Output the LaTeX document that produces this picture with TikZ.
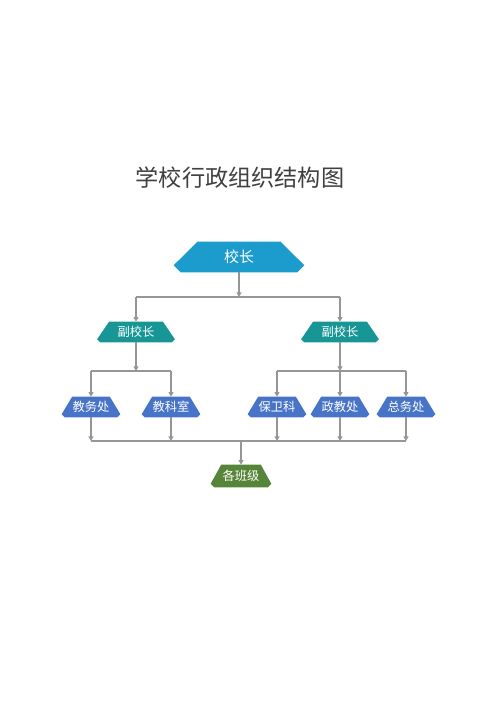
\documentclass[tikz,border=0pt]{standalone}
\usepackage{fontspec}
\setmainfont{Noto Sans CJK SC}
\usetikzlibrary{arrows.meta,backgrounds}

\definecolor{headblue}{RGB}{28,155,205}
\definecolor{viceteal}{RGB}{24,150,150}
\definecolor{deptblue}{RGB}{72,116,200}
\definecolor{classgreen}{RGB}{86,132,56}
\definecolor{linegray}{RGB}{150,150,150}
\definecolor{titlegray}{RGB}{64,64,64}

\tikzset{
    orgbox/.style={rectangle, inner sep=0pt, text=white},
    bus/.style={draw=linegray, line width=0.6pt},
    link/.style={bus, -{Triangle[length=2.6pt,width=2.8pt]}}
}

% bevelled box behind a node: name, colour, top inset, bottom bevel
\newcommand{\orgshape}[4]{%
    \fill[#2] ([xshift=#3]#1.north west) -- ([xshift=-#3]#1.north east)
        -- ([yshift=#4]#1.south east) -- ([xshift=-#4]#1.south east)
        -- ([xshift=#4]#1.south west) -- ([yshift=#4]#1.south west) -- cycle;}

\begin{document}
\begin{tikzpicture}[x=0.02cm, y=-0.02cm]
    \useasboundingbox (0,0) rectangle (500,707);
    \node [text=titlegray, font=\fontsize{13.2}{15}\selectfont] (title) at (240,178) {学校行政组织结构图};

    \node [orgbox, minimum width=2.6cm, minimum height=0.6cm, font=\fontsize{8.5}{10}\selectfont] (head) at (239,257) {校长};
    \node [orgbox, minimum width=1.54cm, minimum height=0.4cm, font=\fontsize{7}{8}\selectfont] (vl) at (136,332) {副校长};
    \node [orgbox, minimum width=1.54cm, minimum height=0.4cm, font=\fontsize{7}{8}\selectfont] (vr) at (340,332) {副校长};
    \foreach \n/\x/\t in {b1/91/教务处, b2/171/教科室, b3/277/保卫科, b4/340/政教处, b5/406/总务处}
        \node [orgbox, minimum width=1.16cm, minimum height=0.4cm, font=\fontsize{7}{8}\selectfont] (\n) at (\x,407) {\t};
    \node [orgbox, minimum width=1.2cm, minimum height=0.44cm, font=\fontsize{7}{8}\selectfont] (cls) at (241,476) {各班级};

    \begin{scope}[on background layer]
        \orgshape{head}{headblue}{13.5pt}{4pt}
        \foreach \n in {vl,vr} {\orgshape{\n}{viceteal}{6.8pt}{1.8pt}}
        \foreach \n in {b1,b2,b3,b4,b5} {\orgshape{\n}{deptblue}{6pt}{1.8pt}}
        \orgshape{cls}{classgreen}{6pt}{2pt}
    \end{scope}

    \coordinate (busA) at (239,297);
    \coordinate (busB) at (239,371);
    \coordinate (busC) at (241,441);

    % 校长 -> 副校长
    \draw [link] (head) -- (head.south |- busA);
    \draw [bus] (vl.north |- busA) -- (vr.north |- busA);
    \foreach \n in {vl,vr} {\draw [link] (\n.north |- busA) -- (\n);}

    % 副校长 -> 处室
    \draw [link] (vl) -- (vl.south |- busB);
    \draw [link] (vr) -- (vr.south |- busB);
    \draw [bus] (b1.north |- busB) -- (b2.north |- busB);
    \draw [bus] (b3.north |- busB) -- (b5.north |- busB);
    \foreach \n in {b1,b2,b3,b4,b5} {\draw [link] (\n.north |- busB) -- (\n);}

    % 处室 -> 各班级
    \foreach \n in {b1,b2,b3,b4,b5} {\draw [link] (\n) -- (\n.south |- busC);}
    \draw [bus] (b1.south |- busC) -- (b5.south |- busC);
    \draw [link] (cls.north |- busC) -- (cls);
\end{tikzpicture}
\end{document}
